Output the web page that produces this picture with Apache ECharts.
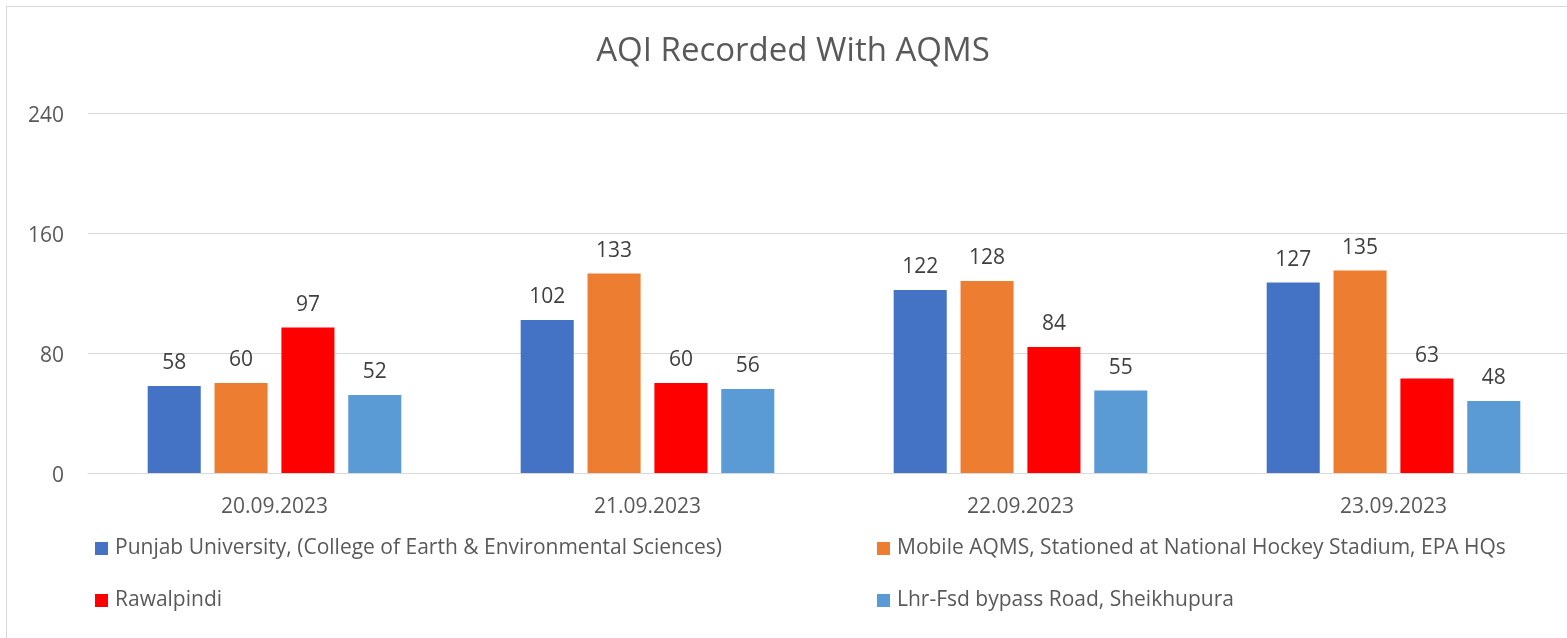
<!DOCTYPE html>
<html>
<head>
<meta charset="utf-8">
<script src="https://cdn.jsdelivr.net/npm/echarts@6/dist/echarts.min.js"></script>
<style>
  html, body { margin: 0; padding: 0; background: #fff; overflow: hidden; width: 1567px; height: 638px; }
  #frame { position: absolute; left: 6px; top: 6px; width: 1620px; height: 700px; border: 1px solid #d9d9d9; box-sizing: border-box; }
  #chart { position: absolute; left: 0; top: 0; width: 1600px; height: 638px; }
</style>
</head>
<body>
<div id="frame"></div>
<div id="chart"></div>
<script>
const categories = ['20.09.2023', '21.09.2023', '22.09.2023', '23.09.2023'];
const seriesNames = [
  'Punjab University, (College of Earth & Environmental Sciences)',
  'Mobile AQMS, Stationed at National Hockey Stadium, EPA HQs',
  'Rawalpindi',
  'Lhr-Fsd bypass Road, Sheikhupura'
];
const punjabUniversity = [58, 102, 122, 127];
const mobileAQMS = [60, 133, 128, 135];
const rawalpindi = [97, 60, 84, 63];
const sheikhupura = [52, 56, 55, 48];
const yTicks = [0, 80, 160, 240];
const colors = ['#4472C4', '#ED7D31', '#FF0000', '#5B9BD5'];

const FONT = 'Open Sans';
const values = [punjabUniversity, mobileAQMS, rawalpindi, sheikhupura];

const chart = echarts.init(document.getElementById('chart'), null, { renderer: 'canvas' });

const legendPos = [
  { left: 95, top: 538 },
  { left: 877, top: 538 },
  { left: 95, top: 590 },
  { left: 877, top: 590 }
];

chart.setOption({
  backgroundColor: 'transparent',
  animation: false,
  title: {
    text: 'AQI Recorded With AQMS',
    left: 788,
    textAlign: 'center',
    top: 30,
    textStyle: { fontFamily: FONT, fontSize: 33, fontWeight: 'normal', color: '#595959' }
  },
  legend: seriesNames.map((n, i) => ({
    data: [n],
    left: legendPos[i].left,
    top: legendPos[i].top,
    icon: 'rect',
    itemWidth: 13,
    itemHeight: 13,
    padding: 0,
    selectedMode: false,
    textStyle: { fontFamily: FONT, fontSize: 21, color: '#595959', padding: [0, 0, 0, 2] }
  })),
  grid: { left: 88, top: 113, width: 1492, height: 360, containLabel: false },
  xAxis: {
    type: 'category',
    data: categories,
    axisLine: { show: true, lineStyle: { color: '#d9d9d9', width: 1 } },
    axisTick: { show: false },
    axisLabel: { fontFamily: FONT, fontSize: 21, color: '#595959', margin: 24 }
  },
  yAxis: {
    type: 'value',
    min: yTicks[0],
    max: yTicks[yTicks.length - 1],
    interval: yTicks[1] - yTicks[0],
    axisLine: { show: false },
    axisTick: { show: false },
    splitLine: { lineStyle: { color: '#d9d9d9', width: 1 } },
    axisLabel: { fontFamily: FONT, fontSize: 21, color: '#595959', margin: 24, verticalAlign: 'top', lineHeight: 6 }
  },
  series: seriesNames.map((n, i) => ({
    name: n,
    type: 'bar',
    data: values[i],
    barGap: '26%',
    barCategoryGap: '32%',
    itemStyle: { color: colors[i] },
    label: {
      show: true,
      position: 'top',
      distance: 12,
      fontFamily: FONT,
      fontSize: 21,
      color: '#404040'
    }
  }))
});
</script>
</body>
</html>
